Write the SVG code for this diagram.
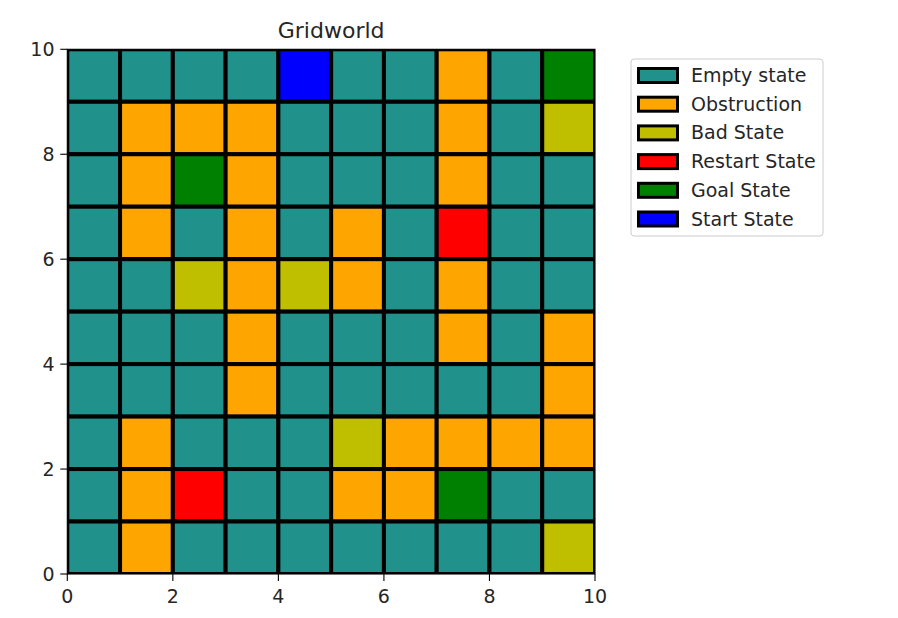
<svg xmlns="http://www.w3.org/2000/svg" width="898" height="618" viewBox="0 0 898 618">
<style>
text{font-family:"DejaVu Sans","Liberation Sans",sans-serif;fill:#262626}
.t{font-size:19px}
.c rect{stroke:#000;stroke-width:4}
.E{fill:#21918c}.O{fill:#ffa500}.B{fill:#bfbf00}.R{fill:#ff0000}.G{fill:#008000}.S{fill:#0000ff}
.tick{stroke:#000;stroke-width:1.1}
.lp{stroke:#000;stroke-width:3}
</style>
<defs><clipPath id="ax"><rect x="67.3" y="49.3" width="527.7" height="524.7"/></clipPath></defs>
<rect width="898" height="618" fill="#fff"/>
<text x="331.15" y="38" font-size="22" text-anchor="middle">Gridworld</text>
<g id="grid" class="c" clip-path="url(#ax)">
<g id="row9">
<rect class="E" x="67.3" y="49.3" width="52.77" height="52.47"/>
<rect class="E" x="120.07" y="49.3" width="52.77" height="52.47"/>
<rect class="E" x="172.84" y="49.3" width="52.77" height="52.47"/>
<rect class="E" x="225.61" y="49.3" width="52.77" height="52.47"/>
<rect class="S" x="278.38" y="49.3" width="52.77" height="52.47"/>
<rect class="E" x="331.15" y="49.3" width="52.77" height="52.47"/>
<rect class="E" x="383.92" y="49.3" width="52.77" height="52.47"/>
<rect class="O" x="436.69" y="49.3" width="52.77" height="52.47"/>
<rect class="E" x="489.46" y="49.3" width="52.77" height="52.47"/>
<rect class="G" x="542.23" y="49.3" width="52.77" height="52.47"/>
</g>
<g id="row8">
<rect class="E" x="67.3" y="101.77" width="52.77" height="52.47"/>
<rect class="O" x="120.07" y="101.77" width="52.77" height="52.47"/>
<rect class="O" x="172.84" y="101.77" width="52.77" height="52.47"/>
<rect class="O" x="225.61" y="101.77" width="52.77" height="52.47"/>
<rect class="E" x="278.38" y="101.77" width="52.77" height="52.47"/>
<rect class="E" x="331.15" y="101.77" width="52.77" height="52.47"/>
<rect class="E" x="383.92" y="101.77" width="52.77" height="52.47"/>
<rect class="O" x="436.69" y="101.77" width="52.77" height="52.47"/>
<rect class="E" x="489.46" y="101.77" width="52.77" height="52.47"/>
<rect class="B" x="542.23" y="101.77" width="52.77" height="52.47"/>
</g>
<g id="row7">
<rect class="E" x="67.3" y="154.24" width="52.77" height="52.47"/>
<rect class="O" x="120.07" y="154.24" width="52.77" height="52.47"/>
<rect class="G" x="172.84" y="154.24" width="52.77" height="52.47"/>
<rect class="O" x="225.61" y="154.24" width="52.77" height="52.47"/>
<rect class="E" x="278.38" y="154.24" width="52.77" height="52.47"/>
<rect class="E" x="331.15" y="154.24" width="52.77" height="52.47"/>
<rect class="E" x="383.92" y="154.24" width="52.77" height="52.47"/>
<rect class="O" x="436.69" y="154.24" width="52.77" height="52.47"/>
<rect class="E" x="489.46" y="154.24" width="52.77" height="52.47"/>
<rect class="E" x="542.23" y="154.24" width="52.77" height="52.47"/>
</g>
<g id="row6">
<rect class="E" x="67.3" y="206.71" width="52.77" height="52.47"/>
<rect class="O" x="120.07" y="206.71" width="52.77" height="52.47"/>
<rect class="E" x="172.84" y="206.71" width="52.77" height="52.47"/>
<rect class="O" x="225.61" y="206.71" width="52.77" height="52.47"/>
<rect class="E" x="278.38" y="206.71" width="52.77" height="52.47"/>
<rect class="O" x="331.15" y="206.71" width="52.77" height="52.47"/>
<rect class="E" x="383.92" y="206.71" width="52.77" height="52.47"/>
<rect class="R" x="436.69" y="206.71" width="52.77" height="52.47"/>
<rect class="E" x="489.46" y="206.71" width="52.77" height="52.47"/>
<rect class="E" x="542.23" y="206.71" width="52.77" height="52.47"/>
</g>
<g id="row5">
<rect class="E" x="67.3" y="259.18" width="52.77" height="52.47"/>
<rect class="E" x="120.07" y="259.18" width="52.77" height="52.47"/>
<rect class="B" x="172.84" y="259.18" width="52.77" height="52.47"/>
<rect class="O" x="225.61" y="259.18" width="52.77" height="52.47"/>
<rect class="B" x="278.38" y="259.18" width="52.77" height="52.47"/>
<rect class="O" x="331.15" y="259.18" width="52.77" height="52.47"/>
<rect class="E" x="383.92" y="259.18" width="52.77" height="52.47"/>
<rect class="O" x="436.69" y="259.18" width="52.77" height="52.47"/>
<rect class="E" x="489.46" y="259.18" width="52.77" height="52.47"/>
<rect class="E" x="542.23" y="259.18" width="52.77" height="52.47"/>
</g>
<g id="row4">
<rect class="E" x="67.3" y="311.65" width="52.77" height="52.47"/>
<rect class="E" x="120.07" y="311.65" width="52.77" height="52.47"/>
<rect class="E" x="172.84" y="311.65" width="52.77" height="52.47"/>
<rect class="O" x="225.61" y="311.65" width="52.77" height="52.47"/>
<rect class="E" x="278.38" y="311.65" width="52.77" height="52.47"/>
<rect class="E" x="331.15" y="311.65" width="52.77" height="52.47"/>
<rect class="E" x="383.92" y="311.65" width="52.77" height="52.47"/>
<rect class="O" x="436.69" y="311.65" width="52.77" height="52.47"/>
<rect class="E" x="489.46" y="311.65" width="52.77" height="52.47"/>
<rect class="O" x="542.23" y="311.65" width="52.77" height="52.47"/>
</g>
<g id="row3">
<rect class="E" x="67.3" y="364.12" width="52.77" height="52.47"/>
<rect class="E" x="120.07" y="364.12" width="52.77" height="52.47"/>
<rect class="E" x="172.84" y="364.12" width="52.77" height="52.47"/>
<rect class="O" x="225.61" y="364.12" width="52.77" height="52.47"/>
<rect class="E" x="278.38" y="364.12" width="52.77" height="52.47"/>
<rect class="E" x="331.15" y="364.12" width="52.77" height="52.47"/>
<rect class="E" x="383.92" y="364.12" width="52.77" height="52.47"/>
<rect class="E" x="436.69" y="364.12" width="52.77" height="52.47"/>
<rect class="E" x="489.46" y="364.12" width="52.77" height="52.47"/>
<rect class="O" x="542.23" y="364.12" width="52.77" height="52.47"/>
</g>
<g id="row2">
<rect class="E" x="67.3" y="416.59" width="52.77" height="52.47"/>
<rect class="O" x="120.07" y="416.59" width="52.77" height="52.47"/>
<rect class="E" x="172.84" y="416.59" width="52.77" height="52.47"/>
<rect class="E" x="225.61" y="416.59" width="52.77" height="52.47"/>
<rect class="E" x="278.38" y="416.59" width="52.77" height="52.47"/>
<rect class="B" x="331.15" y="416.59" width="52.77" height="52.47"/>
<rect class="O" x="383.92" y="416.59" width="52.77" height="52.47"/>
<rect class="O" x="436.69" y="416.59" width="52.77" height="52.47"/>
<rect class="O" x="489.46" y="416.59" width="52.77" height="52.47"/>
<rect class="O" x="542.23" y="416.59" width="52.77" height="52.47"/>
</g>
<g id="row1">
<rect class="E" x="67.3" y="469.06" width="52.77" height="52.47"/>
<rect class="O" x="120.07" y="469.06" width="52.77" height="52.47"/>
<rect class="R" x="172.84" y="469.06" width="52.77" height="52.47"/>
<rect class="E" x="225.61" y="469.06" width="52.77" height="52.47"/>
<rect class="E" x="278.38" y="469.06" width="52.77" height="52.47"/>
<rect class="O" x="331.15" y="469.06" width="52.77" height="52.47"/>
<rect class="O" x="383.92" y="469.06" width="52.77" height="52.47"/>
<rect class="G" x="436.69" y="469.06" width="52.77" height="52.47"/>
<rect class="E" x="489.46" y="469.06" width="52.77" height="52.47"/>
<rect class="E" x="542.23" y="469.06" width="52.77" height="52.47"/>
</g>
<g id="row0">
<rect class="E" x="67.3" y="521.53" width="52.77" height="52.47"/>
<rect class="O" x="120.07" y="521.53" width="52.77" height="52.47"/>
<rect class="E" x="172.84" y="521.53" width="52.77" height="52.47"/>
<rect class="E" x="225.61" y="521.53" width="52.77" height="52.47"/>
<rect class="E" x="278.38" y="521.53" width="52.77" height="52.47"/>
<rect class="E" x="331.15" y="521.53" width="52.77" height="52.47"/>
<rect class="E" x="383.92" y="521.53" width="52.77" height="52.47"/>
<rect class="E" x="436.69" y="521.53" width="52.77" height="52.47"/>
<rect class="E" x="489.46" y="521.53" width="52.77" height="52.47"/>
<rect class="B" x="542.23" y="521.53" width="52.77" height="52.47"/>
</g>
</g>
<rect x="67.3" y="49.3" width="527.7" height="524.7" fill="none" stroke="#000" stroke-width="1.1"/>
<g id="xticks" class="tick">
<line x1="67.3" y1="574" x2="67.3" y2="581"/>
<line x1="172.84" y1="574" x2="172.84" y2="581"/>
<line x1="278.38" y1="574" x2="278.38" y2="581"/>
<line x1="383.92" y1="574" x2="383.92" y2="581"/>
<line x1="489.46" y1="574" x2="489.46" y2="581"/>
<line x1="595" y1="574" x2="595" y2="581"/>
</g>
<g id="yticks" class="tick">
<line x1="60.3" y1="49.3" x2="67.3" y2="49.3"/>
<line x1="60.3" y1="154.24" x2="67.3" y2="154.24"/>
<line x1="60.3" y1="259.18" x2="67.3" y2="259.18"/>
<line x1="60.3" y1="364.12" x2="67.3" y2="364.12"/>
<line x1="60.3" y1="469.06" x2="67.3" y2="469.06"/>
<line x1="60.3" y1="574" x2="67.3" y2="574"/>
</g>
<g id="xlabels" class="t" text-anchor="middle">
<text x="67.3" y="603">0</text>
<text x="172.84" y="603">2</text>
<text x="278.38" y="603">4</text>
<text x="383.92" y="603">6</text>
<text x="489.46" y="603">8</text>
<text x="595" y="603">10</text>
</g>
<g id="ylabels" class="t" text-anchor="end">
<text x="54.5" y="56.2">10</text>
<text x="54.5" y="161.1">8</text>
<text x="54.5" y="266.1">6</text>
<text x="54.5" y="371">4</text>
<text x="54.5" y="476">2</text>
<text x="54.5" y="580.9">0</text>
</g>
<g id="legend">
<rect x="631" y="59" width="192" height="177" rx="3" fill="#fff" fill-opacity="0.8" stroke="#cccccc" stroke-width="1"/>
<rect class="lp E" x="638.5" y="68.5" width="39" height="14"/>
<rect class="lp O" x="638.5" y="97.2" width="39" height="14"/>
<rect class="lp B" x="638.5" y="125.9" width="39" height="14"/>
<rect class="lp R" x="638.5" y="154.6" width="39" height="14"/>
<rect class="lp G" x="638.5" y="183.3" width="39" height="14"/>
<rect class="lp S" x="638.5" y="212" width="39" height="14"/>
<g class="t">
<text x="691" y="82">Empty state</text>
<text x="691" y="110.7">Obstruction</text>
<text x="691" y="139.4">Bad State</text>
<text x="691" y="168.1">Restart State</text>
<text x="691" y="196.8">Goal State</text>
<text x="691" y="225.5">Start State</text>
</g>
</g>
</svg>
